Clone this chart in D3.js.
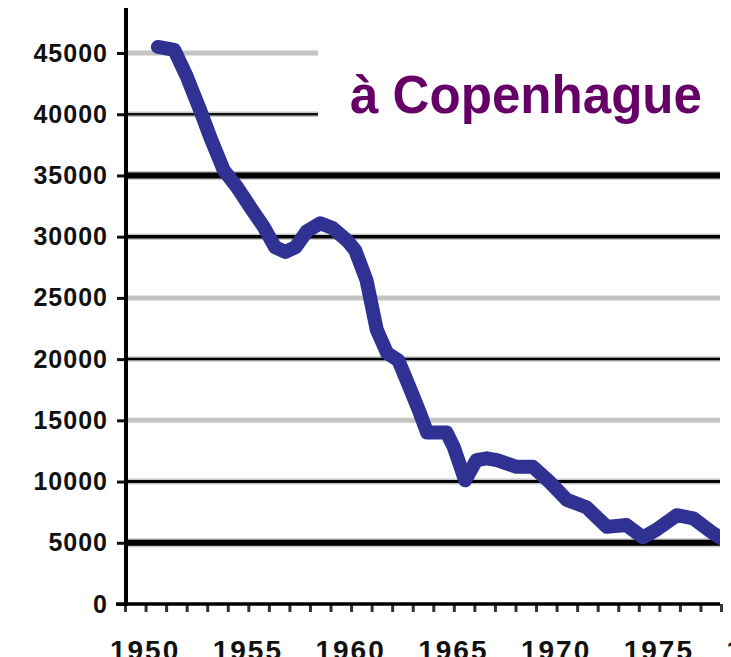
<!DOCTYPE html>
<html>
<head>
<meta charset="utf-8">
<script src="https://cdn.jsdelivr.net/npm/d3@7"></script>
<style>
  html, body { margin: 0; padding: 0; background: #fff; }
  svg { display: block; }
  .tick text { font-family: "Liberation Sans", Arial, Helvetica, sans-serif; font-weight: bold; fill: #111; }
</style>
</head>
<body>
<svg id="main-svg" width="731" height="657"></svg>
<script>
// values (year, number)
var years = [1950.6, 1951.4, 1952.0, 1952.65, 1953.2, 1953.8, 1954.45, 1955.1, 1955.75, 1956.3, 1956.8, 1957.3,
             1957.85, 1958.5, 1959.1, 1959.8, 1960.2, 1960.75, 1961.25, 1961.75, 1962.3, 1962.7, 1963.35, 1963.7,
             1964.65, 1965.0, 1965.55, 1966.1, 1966.6, 1967.1, 1968.05, 1968.85, 1969.7, 1970.5, 1971.45, 1972.45,
             1973.4, 1974.2, 1974.85, 1975.85, 1976.65, 1977.6, 1978.3];
var values = [45500, 45250, 43100, 40350, 37900, 35450, 34050, 32400, 30800, 29150, 28750, 29150,
              30450, 31100, 30700, 29700, 28900, 26450, 22400, 20500, 19900, 18300, 15600, 14000,
              14000, 12800, 10100, 11750, 11900, 11750, 11200, 11200, 9900, 8500, 7900, 6300,
              6450, 5450, 6050, 7250, 7000, 5800, 5100];
var yTicks = [0, 5000, 10000, 15000, 20000, 25000, 30000, 35000, 40000, 45000, 50000];
var gridValues = [5000, 10000, 15000, 20000, 25000, 30000, 35000, 40000, 45000];
var xMinor = d3.range(1949, 1979);
var xLabels = [1950, 1955, 1960, 1965, 1970, 1975, 1980];
var title = "à Copenhague";

var svg = d3.select("#main-svg");
var left = 126, right = 720, bottom = 604;

var x = d3.scaleLinear().domain([1949, 1978]).range([125, 721]);
var y = d3.scaleLinear().domain([0, 50000]).range([bottom, -8.2]);

// gridlines (the scanned original shows them in mixed grey / black weights)
function gridStyle(v) {
  switch (v) {
    case 5000:  return {c: "#000", w: 6};
    case 10000: return {c: "#000", w: 3};
    case 15000: return {c: "#c4c4c4", w: 5};
    case 20000: return {c: "#000", w: 2.5};
    case 25000: return {c: "#c4c4c4", w: 5};
    case 30000: return {c: "#000", w: 3.5};
    case 35000: return {c: "#000", w: 6};
    case 40000: return {c: "#111", w: 2.5};
    default:    return {c: "#c4c4c4", w: 5};
  }
}

var grid = svg.append("g").attr("class", "grid");
grid.selectAll("line.fringe")
    .data(gridValues.filter(function(d){ return gridStyle(d).c != "#c4c4c4"; }))
    .enter().append("line")
    .attr("class", "fringe")
    .attr("x1", left).attr("x2", right)
    .attr("y1", function(d){ return y(d); })
    .attr("y2", function(d){ return y(d); })
    .style("stroke", "#c8c8c8")
    .style("stroke-width", function(d){ return gridStyle(d).w + 3; });

grid.selectAll("line.main")
    .data(gridValues).enter().append("line")
    .attr("class", "main")
    .attr("x1", left).attr("x2", right)
    .attr("y1", function(d){ return y(d); })
    .attr("y2", function(d){ return y(d); })
    .style("stroke", function(d){ return gridStyle(d).c; })
    .style("stroke-width", function(d){ return gridStyle(d).w; });

// white box behind the title hides the upper gridlines
svg.append("rect")
   .attr("x", 318).attr("y", 20)
   .attr("width", 402).attr("height", 125)
   .style("fill", "#fff");

svg.append("text")
   .attr("x", 350).attr("y", 113)
   .attr("textLength", 352)
   .attr("lengthAdjust", "spacingAndGlyphs")
   .style("font-family", "\"Liberation Sans\", Arial, Helvetica, sans-serif")
   .style("font-weight", "bold")
   .style("font-size", "54px")
   .style("fill", "#660066")
   .text(title);

// y axis
var yAxis = svg.append("g")
   .attr("transform", "translate(" + left + ",0)")
   .call(d3.axisLeft(y).tickValues(yTicks).tickSize(9).tickPadding(9).tickSizeOuter(0).tickFormat(d3.format("d")));
yAxis.select(".domain").remove();
yAxis.selectAll(".tick line").style("stroke", "#111").style("stroke-width", 3);
yAxis.selectAll(".tick text").style("font-size", "25px").style("letter-spacing", "1px");

// x axis: yearly ticks, labels every 5 years
var xAxis = svg.append("g")
   .attr("transform", "translate(0," + bottom + ")")
   .call(d3.axisBottom(x).tickValues(xMinor).tickSize(8).tickSizeOuter(0).tickFormat(""));
xAxis.select(".domain").remove();
xAxis.selectAll(".tick line").style("stroke", "#333").style("stroke-width", 3);

var xLab = svg.append("g")
   .attr("transform", "translate(0," + bottom + ")")
   .call(d3.axisBottom(x).tickValues(xLabels).tickSize(0).tickPadding(36).tickFormat(d3.format("d")));
xLab.select(".domain").remove();
xLab.selectAll(".tick text").style("font-size", "28px").style("letter-spacing", "2px").attr("dx", -1);

// axis lines
svg.append("line")
   .attr("x1", left).attr("x2", left)
   .attr("y1", 8).attr("y2", bottom + 2)
   .style("stroke", "#000").style("stroke-width", 4);
svg.append("line")
   .attr("x1", 116).attr("x2", right)
   .attr("y1", bottom).attr("y2", bottom)
   .style("stroke", "#000").style("stroke-width", 3.5);

// data line
svg.append("clipPath").attr("id", "plot-clip")
   .append("rect").attr("x", left).attr("y", 0)
   .attr("width", right - left).attr("height", bottom);

var pts = years.map(function(d, i){ return [d, values[i]]; });
var line = d3.line()
   .x(function(d){ return x(d[0]); })
   .y(function(d){ return y(d[1]); });

svg.append("path")
   .datum(pts)
   .attr("clip-path", "url(#plot-clip)")
   .attr("d", line)
   .style("fill", "none")
   .style("stroke", "#2f3193")
   .style("stroke-width", 14)
   .style("stroke-linejoin", "round")
   .style("stroke-linecap", "round");
</script>
</body>
</html>
